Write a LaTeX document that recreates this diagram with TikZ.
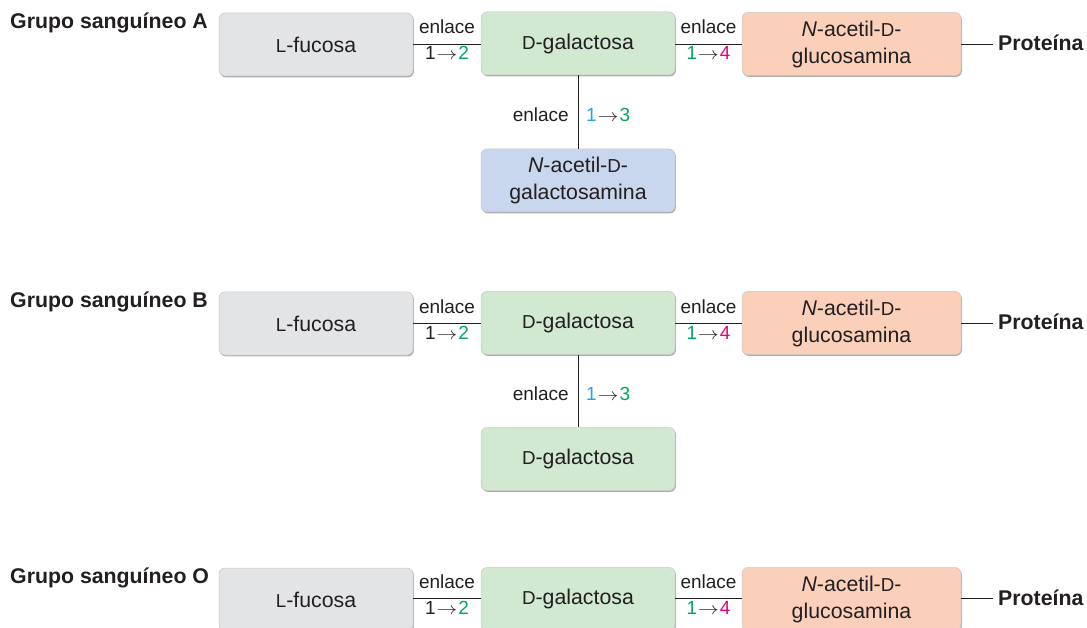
\documentclass[tikz,border=0pt]{standalone}
\usepackage{fontspec}
\setmainfont{Liberation Sans}
\usetikzlibrary{shadows,calc}
\definecolor{txt}{HTML}{231F20}
\definecolor{boxgray}{HTML}{E3E4E6}
\definecolor{boxgreen}{HTML}{D1E8D1}
\definecolor{boxsalmon}{HTML}{FBD0BB}
\definecolor{boxblue}{HTML}{C8D6EE}
\definecolor{cgreen}{HTML}{00A661}
\definecolor{cmag}{HTML}{E6007E}
\definecolor{ccyan}{HTML}{1AA7E2}
\newcommand\smc[1]{\scalebox{0.88}{#1}}
\newcommand\arr{\hspace{1pt}\scalebox{1.2}[1]{$\rightarrow$}\hspace{1pt}}
\tikzset{
  sugar/.style={rounded corners=6pt, minimum width=194pt, minimum height=63pt, inner sep=0pt,
    align=center, draw=black!22, line width=0.5pt, text=txt,
    font=\fontsize{21.3}{27}\selectfont,
    drop shadow={shadow xshift=0.9pt, shadow yshift=-1.4pt, fill=black!45, opacity=0.7}},
  wide/.style={minimum width=219pt},
  bond/.style={draw=txt, line width=0.8pt},
  lbl/.style={text=txt, font=\fontsize{19}{22}\selectfont, inner sep=0pt},
  grp/.style={text=txt, font=\fontsize{21.3}{24}\selectfont\bfseries, inner sep=0pt, anchor=base west},
}
\begin{document}
\begin{tikzpicture}[x=1pt,y=-1pt]
\useasboundingbox (0,0) rectangle (1087,628);

% ---------- Row A ----------
\node[grp] (gA) at (10,29) {Grupo sanguíneo A};
\node[sugar, fill=boxgray] (fA) at (316,44.5) {\smc{L}-fucosa};
\node[sugar, fill=boxgreen] (gaA) at (578,43.5) {\smc{D}-galactosa};
\node[sugar, wide, fill=boxsalmon] (nA) at (851.5,44) {\textit{N}-acetil-\smc{D}-\\glucosamina};
\node[sugar, fill=boxblue] (bA) at (578,180.5) {\textit{N}-acetil-\smc{D}-\\galactosamina};
\node[grp] (pA) at (998,51) {Proteína};
\draw[bond] (fA.east |- 0,44) coordinate (a1) -- (gaA.west |- 0,44) coordinate (a2);
\draw[bond] (gaA.east |- 0,44) coordinate (a3) -- (nA.west |- 0,44) coordinate (a4);
\draw[bond] (nA.east |- 0,44) -- ($(pA.west |- 0,44)+(-5,0)$);
\draw[bond] (gaA.south) -- (bA.north) coordinate[midway] (a6);
\node[lbl, anchor=base] at ($(a1)!0.5!(a2)+(0,-10)$) {enlace};
\node[lbl, anchor=base] at ($(a1)!0.5!(a2)+(0,16)$) {1\arr\textcolor{cgreen}{2}};
\node[lbl, anchor=base] at ($(a3)!0.5!(a4)+(0,-10)$) {enlace};
\node[lbl, anchor=base] at ($(a3)!0.5!(a4)+(0,16)$) {\textcolor{cgreen}{1}\arr\textcolor{cmag}{4}};
\node[lbl, anchor=east] at ($(a6)+(-9,3)$) {enlace};
\node[lbl, anchor=west] at ($(a6)+(8,3)$) {\textcolor{ccyan}{1}\arr\textcolor{cgreen}{3}};

% ---------- Row B ----------
\node[grp] (gB) at (10,308) {Grupo sanguíneo B};
\node[sugar, fill=boxgray] (fB) at (316,323.5) {\smc{L}-fucosa};
\node[sugar, fill=boxgreen] (gaB) at (578,323) {\smc{D}-galactosa};
\node[sugar, wide, fill=boxsalmon] (nB) at (851.5,323) {\textit{N}-acetil-\smc{D}-\\glucosamina};
\node[sugar, fill=boxgreen] (bB) at (578,459) {\smc{D}-galactosa};
\node[grp] (pB) at (998,330) {Proteína};
\draw[bond] (fB.east |- 0,323) coordinate (b1) -- (gaB.west |- 0,323) coordinate (b2);
\draw[bond] (gaB.east |- 0,323) coordinate (b3) -- (nB.west |- 0,323) coordinate (b4);
\draw[bond] (nB.east |- 0,323) -- ($(pB.west |- 0,323)+(-5,0)$);
\draw[bond] (gaB.south) -- (bB.north) coordinate[midway] (b6);
\node[lbl, anchor=base] at ($(b1)!0.5!(b2)+(0,-10)$) {enlace};
\node[lbl, anchor=base] at ($(b1)!0.5!(b2)+(0,16)$) {1\arr\textcolor{cgreen}{2}};
\node[lbl, anchor=base] at ($(b3)!0.5!(b4)+(0,-10)$) {enlace};
\node[lbl, anchor=base] at ($(b3)!0.5!(b4)+(0,16)$) {\textcolor{cgreen}{1}\arr\textcolor{cmag}{4}};
\node[lbl, anchor=east] at ($(b6)+(-9,3)$) {enlace};
\node[lbl, anchor=west] at ($(b6)+(8,3)$) {\textcolor{ccyan}{1}\arr\textcolor{cgreen}{3}};

% ---------- Row O ----------
\node[grp] (gO) at (10,583) {Grupo sanguíneo O};
\node[sugar, fill=boxgray] (fO) at (316,599.5) {\smc{L}-fucosa};
\node[sugar, fill=boxgreen] (gaO) at (578,599) {\smc{D}-galactosa};
\node[sugar, wide, fill=boxsalmon] (nO) at (851.5,599) {\textit{N}-acetil-\smc{D}-\\glucosamina};
\node[grp] (pO) at (998,605) {Proteína};
\draw[bond] (fO.east |- 0,598) coordinate (o1) -- (gaO.west |- 0,598) coordinate (o2);
\draw[bond] (gaO.east |- 0,598) coordinate (o3) -- (nO.west |- 0,598) coordinate (o4);
\draw[bond] (nO.east |- 0,598) -- ($(pO.west |- 0,598)+(-5,0)$);
\node[lbl, anchor=base] at ($(o1)!0.5!(o2)+(0,-10)$) {enlace};
\node[lbl, anchor=base] at ($(o1)!0.5!(o2)+(0,16)$) {1\arr\textcolor{cgreen}{2}};
\node[lbl, anchor=base] at ($(o3)!0.5!(o4)+(0,-10)$) {enlace};
\node[lbl, anchor=base] at ($(o3)!0.5!(o4)+(0,16)$) {\textcolor{cgreen}{1}\arr\textcolor{cmag}{4}};
\end{tikzpicture}
\end{document}
